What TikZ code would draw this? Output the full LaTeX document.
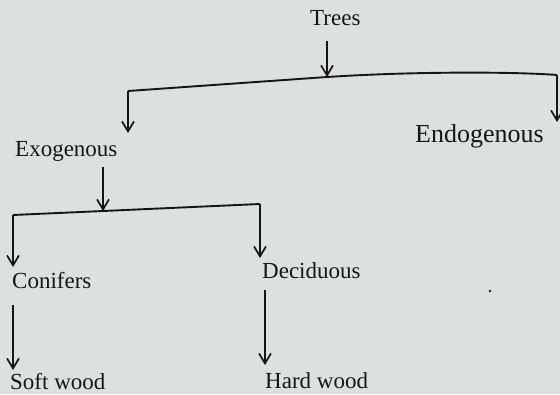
\documentclass[tikz,border=0pt]{standalone}
\usepackage{fontspec}
\setmainfont{Liberation Serif}
\usetikzlibrary{arrows.meta}
\definecolor{bgcol}{RGB}{221,224,224}
\definecolor{ink}{RGB}{22,22,22}
\begin{document}
\begin{tikzpicture}[x=1pt,y=-1pt,
  lbl/.style={anchor=base west,inner sep=0pt,text=ink,font=\fontsize{23}{26}\selectfont},
  arr/.style={draw=ink,line width=1.9pt,-{Straight Barb[length=10pt,width=12pt,line width=1.7pt]}},
  bar/.style={draw=ink,line width=1.9pt,line join=round}]
\useasboundingbox (0,0) rectangle (560,394);
\fill[bgcol] (0,0) rectangle (560,394);
% labels
\node[lbl] (trees) at (310,25) {Trees};
\node[lbl,font=\fontsize{26}{29}\selectfont] (endo) at (415,142) {Endogenous};
\node[lbl] (exo) at (15,156) {Exogenous};
\node[lbl] (conif) at (12,288) {Conifers};
\node[lbl] (decid) at (262,278) {Deciduous};
\node[lbl] (soft) at (10,389) {Soft wood};
\node[lbl] (hard) at (265,388) {Hard wood};
% junction coordinates
\coordinate (t0) at (327,41);
\coordinate (j1) at (327,77);
\coordinate (l1) at (128,91);
\coordinate (r1) at (557,75);
\coordinate (le) at (128,133);
\coordinate (re) at (557,122);
\coordinate (e0) at (103,167);
\coordinate (j2) at (103,211);
\coordinate (l2) at (13,215);
\coordinate (r2) at (260,204);
\coordinate (lc) at (13,267);
\coordinate (rd) at (260,258);
\coordinate (c0) at (13,305);
\coordinate (cs) at (13,370);
\coordinate (d0) at (265,290);
\coordinate (dh) at (265,365);
% connectors
\draw[arr] (t0) -- (j1);
\draw[bar] (l1) -- (j1) .. controls (420,71) and (520,72) .. (r1);
\draw[arr] (l1) -- (le);
\draw[arr] (r1) -- (re);
\draw[arr] (e0) -- (j2);
\draw[bar] (l2) -- (j2) -- (r2);
\draw[arr] (l2) -- (lc);
\draw[arr] (r2) -- (rd);
\draw[arr] (c0) -- (cs);
\draw[arr] (d0) -- (dh);
\fill[ink] (490,291) circle (1.3pt);
\end{tikzpicture}
\end{document}
